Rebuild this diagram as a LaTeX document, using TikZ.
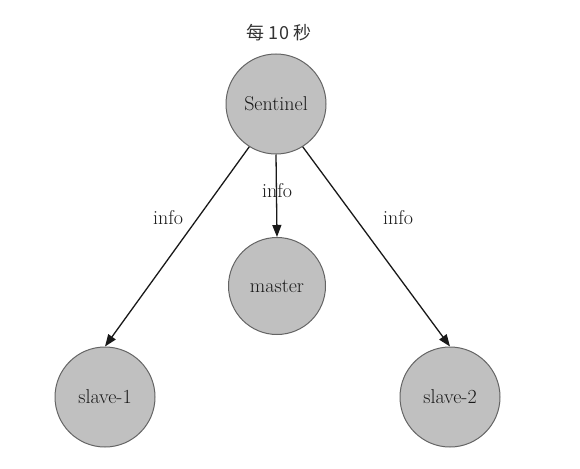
\documentclass[tikz,border=0pt]{standalone}
\usepackage{fontspec}
\newfontfamily\cjk{Noto Sans CJK SC}
\usetikzlibrary{arrows.meta}
\definecolor{nodefill}{RGB}{192,192,192}
\definecolor{nodeedge}{RGB}{100,100,100}
\begin{document}
\begin{tikzpicture}[x=1pt,y=-1pt,
  ball/.style={circle,draw=nodeedge,line width=1pt,fill=nodefill,minimum size=100pt,inner sep=0pt,font=\fontsize{20}{22}\selectfont,text=black!90},
  lbl/.style={font=\fontsize{20}{22}\selectfont,text=black!90,inner sep=1pt},
  link/.style={draw=black!90,line width=1.3pt,-{Triangle[length=12pt,width=9pt]}}]
\useasboundingbox (0,0) rectangle (580,468);
\node[font=\cjk\fontsize{18}{20}\selectfont,text=black!80] (title) at (279,33) {每 10 秒};
\node[ball] (s) at (276,104) {Sentinel};
\node[ball,minimum size=97pt] (m) at (277,286) {master};
\node[ball] (s1) at (105,397) {slave-1};
\node[ball] (s2) at (450,397) {slave-2};
\draw[link] (s.238) -- (s1.north);
\draw[link] (s.south) -- (m.north);
\draw[link] (s.302) -- (s2.north);
\node[lbl] (l1) at (168,218) {info};
\node[lbl] (l2) at (277,191) {info};
\node[lbl] (l3) at (398,218) {info};
\end{tikzpicture}
\end{document}
